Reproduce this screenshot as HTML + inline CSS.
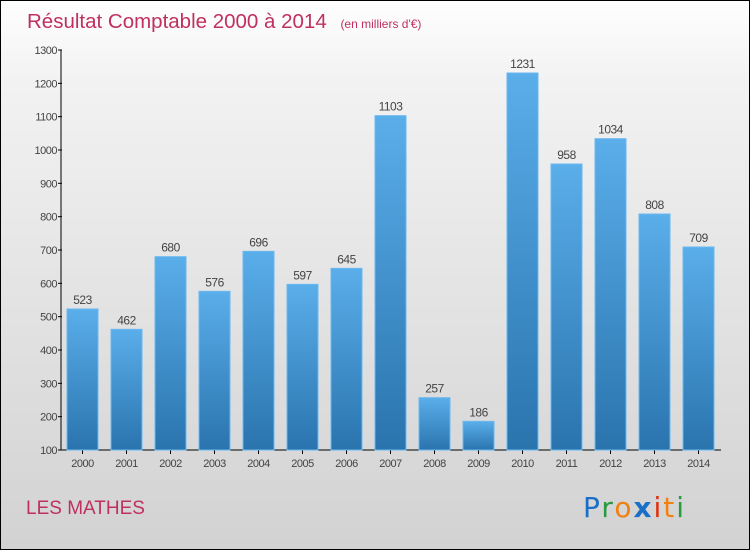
<!DOCTYPE html>
<html><head><meta charset="utf-8"><style>
html,body{margin:0;padding:0;}
body{width:750px;height:550px;overflow:hidden;font-family:"Liberation Sans",sans-serif;}
#wrap{position:absolute;left:0;top:0;width:748px;height:548px;border:1px solid #000;background:linear-gradient(#fefefe,#f2f2f2 15%,#d2d2d2);}
</style></head><body>
<div id="wrap">
<svg id="chart" width="748" height="548" xmlns="http://www.w3.org/2000/svg">
<defs><linearGradient id="bg" x1="0" y1="0" x2="0" y2="1"><stop offset="0" stop-color="#5aaeea"/><stop offset="1" stop-color="#2a74ae"/></linearGradient></defs>
<text x="26" y="27" font-size="20.5" fill="#c0305e">Résultat Comptable 2000 à 2014 <tspan font-size="12" dx="8">(en milliers d'€)</tspan></text>
<text x="25" y="513" font-size="19" fill="#c0305e">LES MATHES</text>
<g font-size="28" font-family="'DejaVu Sans',sans-serif">
<text x="582" y="516" letter-spacing="2"><tspan fill="#1a70c8">P</tspan><tspan fill="#2a9a40">r</tspan><tspan fill="#f08010">o</tspan><tspan fill="#1a70c8" font-weight="bold">x</tspan><tspan fill="#e03010">i</tspan><tspan fill="#f08010">t</tspan><tspan fill="#2a9a40">i</tspan></text></g>
<g id="axes"></g><g id="bars"></g>
</svg></div>
<script>
const categories=["2000","2001","2002","2003","2004","2005","2006","2007","2008","2009","2010","2011","2012","2013","2014"];
const values=[523,462,680,576,696,597,645,1103,257,186,1231,958,1034,808,709];
const yTicks=[100,200,300,400,500,600,700,800,900,1000,1100,1200,1300];
const NS="http://www.w3.org/2000/svg";
const y=v=>449-(v-100)*(400/1200);
const x=i=>66+i*44;
const ax=document.getElementById('axes'),bg=document.getElementById('bars');
function mk(p,t,a){const e=document.createElementNS(NS,t);for(const k in a)e.setAttribute(k,a[k]);p.appendChild(e);return e;}
let l=mk(ax,'line',{x1:60,y1:49,x2:60,y2:449,stroke:'#000'});


l=mk(ax,'line',{x1:60,y1:449,x2:720,y2:449,stroke:'#000'});


yTicks.forEach(v=>{
 mk(ax,'line',{x1:57,y1:y(v),x2:61,y2:y(v),stroke:'#000'});
 const t=mk(ax,'text',{x:56,y:y(v)+4,'font-size':11,'text-anchor':'end',fill:'#444','letter-spacing':'-0.5'});
 t.textContent=v;
 
 
});
categories.forEach((c,i)=>{
 const r=mk(bg,'rect',{x:x(i),y:y(values[i]),width:31,height:449-y(values[i]),fill:'url(#bg)',stroke:'#6ab8f0','stroke-width':1});
 
 
 const vl=mk(bg,'text',{x:x(i)+15.5,y:y(values[i])-5,'font-size':12,'text-anchor':'middle',fill:'#444','letter-spacing':'-0.5'});
 vl.textContent=values[i];
 
 
 mk(ax,'line',{x1:x(i)+15.5,y1:449,x2:x(i)+15.5,y2:453,stroke:'#000'});
 const xl=mk(ax,'text',{x:x(i)+15.5,y:466,'font-size':11,'text-anchor':'middle',fill:'#444','letter-spacing':'-0.5'});
 xl.textContent=c;
 
 
});
</script>
</body></html>
